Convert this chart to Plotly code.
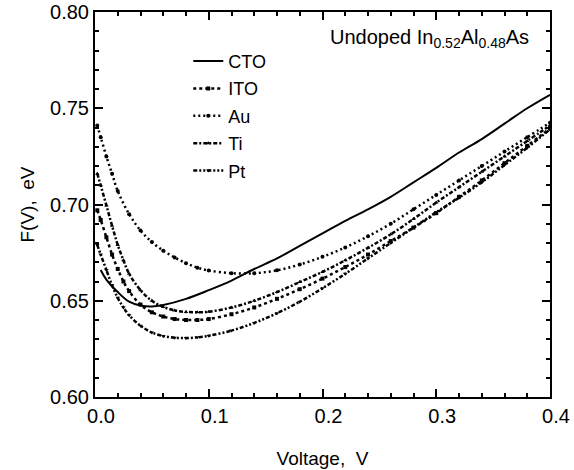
import plotly.graph_objects as go

# ---- data ----
V_CTO = [0.005, 0.01, 0.02, 0.03, 0.04, 0.05, 0.06, 0.08, 0.10, 0.12, 0.14, 0.16, 0.18, 0.20,
         0.22, 0.24, 0.26, 0.28, 0.30, 0.32, 0.34, 0.36, 0.38, 0.40]
F_CTO = [0.666, 0.661, 0.6545, 0.6495, 0.6475, 0.647, 0.6478, 0.651, 0.6555, 0.6605, 0.6665,
         0.672, 0.6785, 0.685, 0.6915, 0.6975, 0.704, 0.7115, 0.719, 0.727, 0.734, 0.742, 0.750, 0.757]

V_ITO = [0.002, 0.005, 0.01, 0.015, 0.02, 0.025, 0.03, 0.04, 0.05, 0.06, 0.07, 0.08, 0.09, 0.10,
         0.12, 0.14, 0.16, 0.18, 0.20, 0.22, 0.24, 0.26, 0.28, 0.30, 0.32, 0.34, 0.36, 0.38, 0.40]
F_ITO = [0.697, 0.692, 0.683, 0.674, 0.6665, 0.660, 0.655, 0.648, 0.644, 0.6418, 0.6405, 0.640,
         0.640, 0.6405, 0.643, 0.6465, 0.651, 0.656, 0.6615, 0.6675, 0.674, 0.681, 0.688, 0.6955,
         0.704, 0.7125, 0.7215, 0.7305, 0.7395]

V_AU = [0.002, 0.005, 0.01, 0.015, 0.02, 0.03, 0.04, 0.05, 0.06, 0.07, 0.08, 0.09, 0.10, 0.12,
        0.14, 0.16, 0.18, 0.20, 0.22, 0.24, 0.26, 0.28, 0.30, 0.32, 0.34, 0.36, 0.38, 0.40]
F_AU = [0.741, 0.735, 0.725, 0.716, 0.707, 0.695, 0.6865, 0.6805, 0.676, 0.6725, 0.6695, 0.6672,
        0.6657, 0.6643, 0.6643, 0.6658, 0.6688, 0.6728, 0.6777, 0.6835, 0.690, 0.6975, 0.705,
        0.7125, 0.720, 0.7275, 0.735, 0.7425]

V_TI = [0.002, 0.005, 0.01, 0.015, 0.02, 0.025, 0.03, 0.04, 0.05, 0.06, 0.07, 0.08, 0.09, 0.10,
        0.12, 0.14, 0.16, 0.18, 0.20, 0.22, 0.24, 0.26, 0.28, 0.30, 0.32, 0.34, 0.36, 0.38, 0.40]
F_TI = [0.716, 0.710, 0.6995, 0.689, 0.679, 0.671, 0.664, 0.6555, 0.650, 0.6468, 0.645, 0.6442,
        0.644, 0.6443, 0.6465, 0.650, 0.6545, 0.6597, 0.665, 0.671, 0.6775, 0.6845, 0.6925,
        0.701, 0.709, 0.717, 0.725, 0.733, 0.741]

V_PT = [0.002, 0.005, 0.01, 0.015, 0.02, 0.025, 0.03, 0.04, 0.05, 0.06, 0.07, 0.08, 0.09, 0.10,
        0.12, 0.14, 0.16, 0.18, 0.20, 0.22, 0.24, 0.26, 0.28, 0.30, 0.32, 0.34, 0.36, 0.38, 0.40]
F_PT = [0.679, 0.674, 0.666, 0.658, 0.6515, 0.6465, 0.6425, 0.637, 0.6335, 0.6317, 0.6308, 0.6306,
        0.631, 0.6318, 0.6345, 0.6385, 0.6435, 0.6495, 0.6565, 0.664, 0.672, 0.680, 0.688, 0.696,
        0.7035, 0.7115, 0.7205, 0.7295, 0.739]

X_TICKS = [0.0, 0.1, 0.2, 0.3, 0.4]
Y_TICKS = [0.60, 0.65, 0.70, 0.75, 0.80]

FONT = "Liberation Sans, Arial, Helvetica, sans-serif"

series = [
    ("CTO", V_CTO, F_CTO, "solid", None),
    ("ITO", V_ITO, F_ITO, "3px,3px", "square"),
    ("Au", V_AU, F_AU, "2px,3px", "circle"),
    ("Ti", V_TI, F_TI, "4px,2px,2px,2px", "triangle-up"),
    ("Pt", V_PT, F_PT, "4px,2px,2px,2px,2px,2px", "triangle-down"),
]

fig = go.Figure()
for name, xs, ys, dash, sym in series:
    if sym is None:
        fig.add_trace(go.Scatter(x=xs, y=ys, name=name, mode="lines", legendgroup=name,
                                 line=dict(color="black", width=2, dash=dash, shape="spline")))
    else:
        fig.add_trace(go.Scatter(x=xs, y=ys, name=name, mode="lines+markers", legendgroup=name,
                                 line=dict(color="black", width=2.5, dash=dash, shape="spline"),
                                 marker=dict(symbol=sym, size=4, color="black")))

axis_common = dict(
    showline=True, linecolor="black", linewidth=2, mirror="allticks",
    ticks="inside", ticklen=8, tickwidth=1.5, tickcolor="black",
    showgrid=False, zeroline=False, automargin=False,
    tickfont=dict(family=FONT, size=20, color="black"),
)

fig.update_layout(
    width=574, height=470,
    margin=dict(l=95, r=24, t=12, b=73),
    paper_bgcolor="white", plot_bgcolor="white",
    font=dict(family=FONT, size=18, color="black"),
    showlegend=True,
    legend=dict(x=0.205, y=0.92, xanchor="left", yanchor="top",
                bgcolor="rgba(0,0,0,0)", borderwidth=0,
                traceorder="grouped", tracegroupgap=1,
                font=dict(family=FONT, size=18, color="black")),
    xaxis=dict(range=[0, 0.4], tickvals=X_TICKS, ticktext=[f"{v:.1f}" for v in X_TICKS],
               ticklabelshift=6,
               minor=dict(dtick=0.02, ticklen=4, tickwidth=1.5, ticks="inside", tickcolor="black"),
               title=dict(text="Voltage,\u00a0\u00a0V", font=dict(family=FONT, size=19), standoff=26),
               **axis_common),
    yaxis=dict(range=[0.6, 0.8], tickvals=Y_TICKS, ticktext=[f"{v:.2f}" for v in Y_TICKS],
               minor=dict(dtick=0.01, ticklen=4, tickwidth=1.5, ticks="inside", tickcolor="black"),
               title=dict(text="F(V),\u00a0\u00a0eV", font=dict(family=FONT, size=19), standoff=10),
               **axis_common),
    annotations=[dict(
        text="Undoped In<sub>0.52</sub>Al<sub>0.48</sub>As",
        x=0.958, y=0.93, xref="paper", yref="paper", xanchor="right", yanchor="middle",
        showarrow=False, font=dict(family=FONT, size=20, color="black"))],
)

fig.write_html("out.html", config={"displayModeBar": False},
               post_script="document.body.style.margin='0';document.body.style.padding='0';")
